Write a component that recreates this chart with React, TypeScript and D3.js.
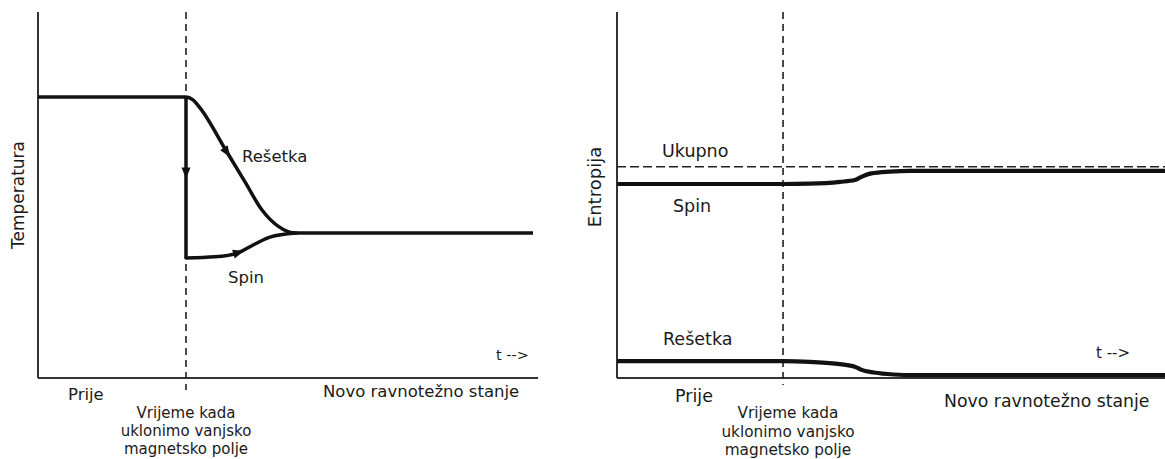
import * as d3 from "d3"

// time runs 0..100 on both panels, event = removal of the external field
const T_EVENT_LEFT = 29.6
const T_EVENT_RIGHT = 30.3

// left panel: temperature
const latticeTemp: [number, number][] = [
  [0, 76.8], [29.6, 76.8], [31, 76], [32.4, 73.8], [37.8, 61.7], [41.4, 53.6],
  [44.8, 45.9], [48, 41.5], [51.6, 39.6], [70, 39.6], [99, 39.6],
]
const spinDrop: [number, number][] = [[29.6, 76.8], [29.6, 32.8]]
const spinTemp: [number, number][] = [
  [29.6, 32.8], [35.4, 33.1], [40, 34.2], [43.4, 36.6], [46.4, 38.5], [51.6, 39.6],
]
const leftArrows: { from: [number, number]; to: [number, number] }[] = [
  { from: [29.6, 60], to: [29.6, 54.5] },
  { from: [36.8, 63.7], to: [38.4, 60.4] },
  { from: [39.2, 33.9], to: [41.2, 34.7] },
]

// right panel: entropy
const totalEntropy = 57.7
const spinEntropy: [number, number][] = [
  [0, 53], [30.3, 53], [35.2, 53.1], [40.7, 53.6], [43.4, 54.1], [44.5, 54.9],
  [46.4, 55.9], [49.8, 56.4], [53.5, 56.6], [75, 56.6], [100, 56.6],
]
const latticeEntropy: [number, number][] = [
  [0, 4.6], [30.3, 4.6], [35.2, 4.4], [40.7, 3.8], [43.4, 3.1], [44.5, 2.3],
  [46.9, 1.5], [50.5, 0.96], [54.2, 0.8], [75, 0.8], [100, 0.8],
]

const eventLabel = ["Vrijeme kada", "uklonimo vanjsko", "magnetsko polje"]

const W = 1165
const H = 459
const FONT = "DejaVu Sans, Verdana, sans-serif"
const INK = "#111"

export default function App() {
  const y = d3.scaleLinear().domain([0, 100]).range([378, 12])
  const xL = d3.scaleLinear().domain([0, 100]).range([38, 538])
  const xR = d3.scaleLinear().domain([0, 100]).range([617, 1165])

  const lineL = d3.line<[number, number]>().x((d) => xL(d[0])).y((d) => y(d[1])).curve(d3.curveMonotoneX)
  const straightL = d3.line<[number, number]>().x((d) => xL(d[0])).y((d) => y(d[1]))
  const lineR = d3.line<[number, number]>().x((d) => xR(d[0])).y((d) => y(d[1])).curve(d3.curveMonotoneX)

  const arrow = (a: { from: [number, number]; to: [number, number] }, i: number) => {
    const x0 = xL(a.from[0]), y0 = y(a.from[1])
    const x1 = xL(a.to[0]), y1 = y(a.to[1])
    const ang = (Math.atan2(y1 - y0, x1 - x0) * 180) / Math.PI
    return (
      <path key={i} d="M0,0 L-11,-4.5 L-11,4.5 Z" fill={INK}
        transform={`translate(${x1},${y1}) rotate(${ang})`} />
    )
  }

  const txt = { fontFamily: FONT, fill: "#1a1a1a" }

  return (
    <svg width={W} height={H} style={{ position: "absolute", left: 0, top: 0, background: "#fff" }}>
      {/* ---------- left: Temperatura ---------- */}
      <g>
        <line x1={xL(0)} x2={xL(0)} y1={y(100)} y2={y(0)} stroke="#333" strokeWidth={2} />
        <line x1={xL(0)} x2={xL(100)} y1={y(0)} y2={y(0)} stroke="#333" strokeWidth={2} />
        <line x1={xL(T_EVENT_LEFT)} x2={xL(T_EVENT_LEFT)} y1={y(100)} y2={y(0) + 12}
          stroke="#222" strokeWidth={1.6} strokeDasharray="7,5" />
        <path d={lineL(latticeTemp) ?? ""} fill="none" stroke={INK} strokeWidth={3.5} strokeLinejoin="round" />
        <path d={straightL(spinDrop) ?? ""} fill="none" stroke={INK} strokeWidth={3.5} />
        <path d={lineL(spinTemp) ?? ""} fill="none" stroke={INK} strokeWidth={3.5} strokeLinecap="round" />
        {leftArrows.map(arrow)}
        <text x={242} y={162} fontSize={16.5} {...txt}>Rešetka</text>
        <text x={228} y={283} fontSize={16.5} {...txt}>Spin</text>
        <text x={496} y={360} fontSize={14.5} {...txt}>t --&gt;</text>
        <text x={68} y={400} fontSize={16.5} {...txt}>Prije</text>
        <text x={323} y={397} fontSize={16.5} {...txt}>Novo ravnotežno stanje</text>
        {eventLabel.map((s, i) => (
          <text key={i} x={xL(T_EVENT_LEFT)} y={418 + i * 18} fontSize={15} textAnchor="middle" {...txt}>{s}</text>
        ))}
        <text transform={`translate(24,${195}) rotate(-90)`} fontSize={17} textAnchor="middle" {...txt}>Temperatura</text>
      </g>

      {/* ---------- right: Entropija ---------- */}
      <g>
        <line x1={xR(0)} x2={xR(0)} y1={y(100)} y2={y(0)} stroke="#333" strokeWidth={2} />
        <line x1={xR(0)} x2={xR(100)} y1={y(0)} y2={y(0)} stroke="#333" strokeWidth={2} />
        <line x1={xR(T_EVENT_RIGHT)} x2={xR(T_EVENT_RIGHT)} y1={y(100)} y2={y(0) + 7}
          stroke="#222" strokeWidth={1.6} strokeDasharray="7,5" />
        <line x1={xR(0)} x2={xR(100)} y1={y(totalEntropy)} y2={y(totalEntropy)}
          stroke="#222" strokeWidth={1.6} strokeDasharray="9,4" />
        <path d={lineR(spinEntropy) ?? ""} fill="none" stroke={INK} strokeWidth={4.2} />
        <path d={lineR(latticeEntropy) ?? ""} fill="none" stroke={INK} strokeWidth={4.2} />
        <text x={662} y={157} fontSize={17.5} {...txt}>Ukupno</text>
        <text x={673} y={212} fontSize={17.5} {...txt}>Spin</text>
        <text x={663} y={345} fontSize={17.5} {...txt}>Rešetka</text>
        <text x={1096} y={358} fontSize={15} {...txt}>t --&gt;</text>
        <text x={675} y={402} fontSize={17.5} {...txt}>Prije</text>
        <text x={944} y={407} fontSize={17.3} {...txt}>Novo ravnotežno stanje</text>
        {eventLabel.map((s, i) => (
          <text key={i} x={788} y={418 + i * 18.5} fontSize={15.3} textAnchor="middle" {...txt}>{s}</text>
        ))}
        <text transform={`translate(601,${187}) rotate(-90)`} fontSize={18} textAnchor="middle" {...txt}>Entropija</text>
      </g>
    </svg>
  )
}
